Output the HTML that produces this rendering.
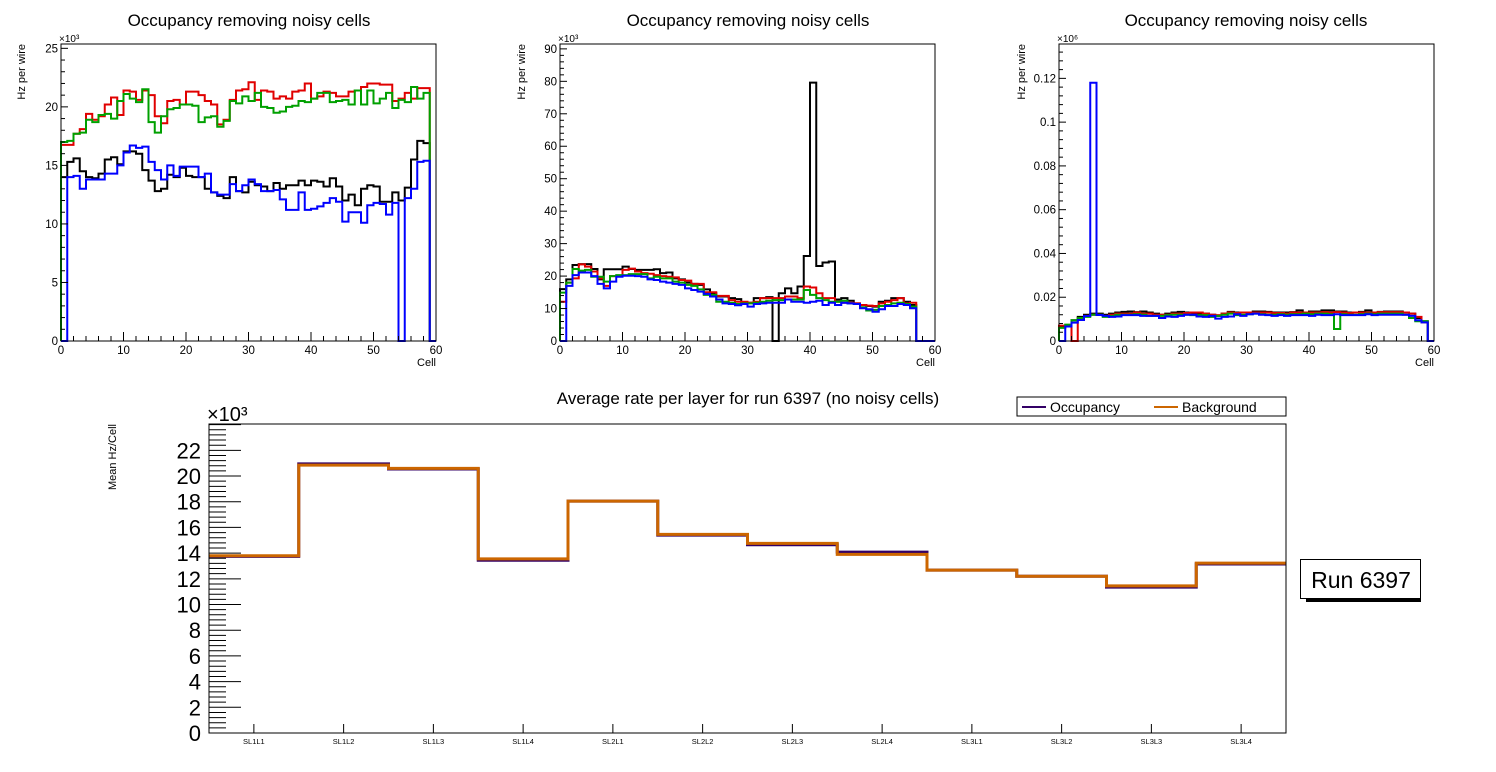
<!DOCTYPE html>
<html><head><meta charset="utf-8"><style>
html,body{margin:0;padding:0;background:#fff;}
svg{display:block;font-family:"Liberation Sans",Arial,sans-serif;}
</style></head><body>
<svg id="c" width="1496" height="772" viewBox="0 0 1496 772" xmlns="http://www.w3.org/2000/svg"></svg>
<script>
// ---------- DATA ----------
const cellBins = 60;
const p1Black = [14.0,15.3,15.6,14.5,14.0,13.9,14.3,15.5,15.7,15.1,16.2,16.2,16.0,14.6,13.7,12.8,13.0,14.2,14.0,14.8,14.1,14.0,14.0,13.0,12.7,12.4,12.2,14.0,12.8,12.7,13.6,13.3,13.2,12.8,13.5,13.0,13.3,13.3,13.7,13.3,13.7,13.6,13.2,13.9,13.2,12.0,12.5,11.6,13.0,13.3,13.2,11.9,11.9,12.7,12.0,13.1,15.5,17.1,16.9,0];
const p1Red = [16.75,16.75,17.7,18.1,19.4,18.9,19.2,20.2,20.8,19.3,21.4,21.3,20.6,21.4,21.0,19.2,18.6,20.5,20.6,20.2,21.3,21.3,21.0,20.5,20.2,18.5,18.9,20.6,21.4,21.5,22.1,20.6,21.4,21.3,20.7,20.9,20.7,21.3,21.4,22.0,20.7,20.9,21.3,21.2,20.9,20.9,21.3,21.4,21.7,22.0,22.0,21.9,21.9,20.5,20.7,21.2,20.7,21.6,21.6,0];
const p1Green = [17.0,17.1,17.7,17.8,18.9,18.7,19.3,19.4,19.0,20.5,21.1,20.7,20.4,21.5,18.7,17.8,19.2,19.8,19.9,20.2,20.2,20.1,18.7,19.1,19.2,18.3,18.8,20.5,20.3,20.9,20.5,21.2,20.0,19.9,19.5,19.6,20.0,20.1,20.5,20.4,20.7,21.2,21.2,20.4,20.5,20.6,20.2,21.4,20.2,21.4,20.3,20.7,21.2,19.9,20.6,20.4,21.7,20.7,21.2,0];
const p1Blue = [0,14.0,14.1,13.0,13.8,13.8,13.8,14.3,14.3,15.0,16.1,16.7,16.5,16.6,15.3,14.6,13.8,15.0,14.1,14.9,14.9,14.9,14.0,14.3,12.7,12.5,12.5,13.4,12.8,13.3,13.8,13.4,12.8,12.8,12.9,12.1,11.2,11.2,12.7,11.2,11.3,11.5,11.8,12.2,11.9,10.2,11.0,11.0,10.1,11.6,11.8,11.7,10.8,11.8,0,12.2,13.0,15.3,15.4,0];

const p2Black = [16.0,19.0,23.4,23.7,23.7,22.2,19.0,22.1,22.1,22.1,22.9,22.2,21.9,21.9,21.9,22.1,20.9,21.1,19.3,19.0,18.0,17.6,17.3,15.9,14.7,13.7,13.7,13.2,12.9,11.8,11.8,13.2,13.2,13.5,0,14.7,16.2,14.7,16.8,26.2,79.6,23.1,24.2,24.5,12.8,13.2,12.4,11.6,11.1,10.8,10.6,12.1,12.4,13.2,13.2,12.1,11.1,0,0,0];
const p2Red = [12.1,18.0,19.3,23.6,22.9,21.4,19.3,17.0,20.0,20.0,21.9,22.3,21.4,20.9,20.7,20.3,20.0,19.8,19.6,18.8,18.6,17.6,17.6,15.0,15.0,13.9,13.9,12.6,12.1,12.1,11.8,12.1,13.2,13.2,13.2,13.2,13.7,13.7,13.2,16.8,16.5,14.7,13.2,13.2,12.1,11.8,11.8,11.6,11.1,10.9,10.8,11.6,12.1,12.6,13.2,11.6,11.8,0,0,0];
const p2Green = [14.9,18.0,22.2,21.7,21.9,19.8,19.8,18.3,20.0,20.3,20.3,20.6,20.6,20.6,19.3,19.8,19.3,19.3,18.3,18.0,17.3,17.0,15.9,14.2,14.2,12.1,12.1,11.8,11.4,11.6,11.6,11.8,12.1,12.4,12.6,12.6,12.8,12.8,12.8,15.7,14.2,13.2,12.6,12.1,12.1,12.4,11.6,11.4,10.4,9.4,9.6,10.8,11.1,11.6,11.8,11.4,10.6,0,0,0];
const p2Blue = [0,17.0,20.3,21.1,21.1,20.0,17.6,16.2,18.3,19.8,20.1,20.1,20.0,19.8,19.0,18.8,18.3,18.0,17.6,17.3,16.2,15.7,15.2,14.5,13.7,12.8,11.6,11.4,11.0,11.4,10.6,11.4,11.6,11.8,11.8,11.8,12.8,12.1,12.1,11.8,12.1,12.4,11.1,11.8,11.1,11.8,11.6,11.4,10.1,9.8,9.0,9.8,10.8,10.8,11.4,11.1,10.1,0,0,0];

const p3Black = [0.0065,0.007,0.0095,0.011,0.012,0.0125,0.0125,0.012,0.0125,0.013,0.0133,0.0135,0.0132,0.0135,0.013,0.0125,0.012,0.0125,0.013,0.0133,0.013,0.0128,0.0125,0.0125,0.012,0.0115,0.0125,0.0133,0.013,0.013,0.013,0.0135,0.0135,0.0133,0.013,0.013,0.013,0.0132,0.014,0.013,0.0135,0.0135,0.014,0.014,0.0135,0.0135,0.013,0.013,0.0133,0.014,0.013,0.0133,0.0135,0.0135,0.0135,0.013,0.0125,0.0105,0.009,0];
const p3Red = [0.007,0.007,0,0.0105,0.0115,0.012,0.012,0.0115,0.012,0.0125,0.0125,0.0125,0.013,0.0125,0.0125,0.012,0.012,0.012,0.0125,0.0125,0.0128,0.013,0.013,0.0125,0.012,0.0118,0.0125,0.013,0.0128,0.013,0.013,0.013,0.013,0.013,0.0128,0.0128,0.0125,0.013,0.013,0.013,0.013,0.013,0.0132,0.013,0.0132,0.013,0.0128,0.013,0.013,0.013,0.013,0.0132,0.0132,0.0132,0.0132,0.013,0.0125,0.011,0.0085,0];
const p3Green = [0.006,0.0075,0.0095,0.0105,0.011,0.012,0.012,0.011,0.0115,0.012,0.012,0.012,0.0122,0.012,0.0115,0.0115,0.0115,0.0118,0.012,0.012,0.012,0.0118,0.0118,0.0118,0.011,0.0115,0.012,0.0125,0.0118,0.012,0.0122,0.0125,0.0122,0.012,0.012,0.0122,0.012,0.0122,0.0122,0.0125,0.0122,0.0125,0.0125,0.0122,0.0055,0.0122,0.012,0.012,0.0122,0.0125,0.0122,0.0125,0.0125,0.0125,0.0125,0.012,0.0105,0.009,0.009,0];
const p3Blue = [0,0.0066,0.0084,0.0096,0.0114,0.118,0.0119,0.0115,0.011,0.0112,0.0118,0.0118,0.0118,0.0115,0.0115,0.0115,0.0105,0.0112,0.011,0.0115,0.012,0.012,0.0112,0.011,0.0115,0.0102,0.011,0.0112,0.0122,0.0115,0.0122,0.0125,0.012,0.0118,0.0115,0.0118,0.0115,0.0118,0.0118,0.0118,0.0115,0.012,0.0118,0.0118,0.0122,0.0118,0.0118,0.0118,0.0118,0.0122,0.0118,0.012,0.012,0.012,0.012,0.012,0.0115,0.0095,0.0085,0];

const layerNames = ["SL1L1","SL1L2","SL1L3","SL1L4","SL2L1","SL2L2","SL2L3","SL2L4","SL3L1","SL3L2","SL3L3","SL3L4"];
const occupancyRate = [13.75,20.95,20.55,13.45,18.05,15.4,14.65,14.08,12.68,12.2,11.35,13.15];
const backgroundRate = [13.8,20.85,20.6,13.55,18.05,15.46,14.76,13.9,12.68,12.2,11.45,13.22];

const p1Ticks = ["0","5","10","15","20","25"];
const p2Ticks = ["0","10","20","30","40","50","60","70","80","90"];
const p3Ticks = ["0","0.02","0.04","0.06","0.08","0.1","0.12"];
const cellTicks = ["0","10","20","30","40","50","60"];
const rateTicks = ["0","2","4","6","8","10","12","14","16","18","20","22"];

// ---------- DRAWING ----------
const svg = document.getElementById('c');
const NS = 'http://www.w3.org/2000/svg';
function mk(tag, attrs, parent) {
  const e = document.createElementNS(NS, tag);
  for (const k in attrs) e.setAttribute(k, attrs[k]);
  (parent || svg).appendChild(e);
  return e;
}
function txt(s, attrs, parent) { const t = mk('text', attrs, parent); t.textContent = s; return t; }

function panel(cfg) {
  const g = mk('g', {});
  
  
  const L = cfg.x0, R = cfg.x1, T = cfg.y0, B = cfg.y1;
  const xs = v => L + (v / 60) * (R - L);
  const ys = v => B - (v / cfg.ymax) * (B - T);
  // title
  const tt = txt('Occupancy removing noisy cells', {x: cfg.tx, y: 26, 'font-size': 17, 'text-anchor': 'middle'}, g);
  
  
  // histograms
  const cols = ['#000000', '#e00000', '#00a000', '#0000ff'];
  const names = ['series-black', 'series-red', 'series-green', 'series-blue'];
  cfg.series.forEach((arr, si) => {
    let d = 'M' + xs(0) + ',' + ys(0);
    for (let i = 0; i < cellBins; i++) {
      d += ' L' + xs(i) + ',' + ys(arr[i]) + ' L' + xs(i + 1) + ',' + ys(arr[i]);
    }
    d += ' L' + xs(60) + ',' + ys(0);
    const p = mk('path', {d: d, fill: 'none', stroke: cols[si], 'stroke-width': 2, 'stroke-linejoin': 'miter'}, g);
    
    
  });
  // frame
  const fr = mk('rect', {x: L, y: T, width: R - L, height: B - T, fill: 'none', stroke: '#000', 'stroke-width': 1}, g);
  
  
  // y ticks
  const yAx = mk('g', {}, g);
  
  
  for (let v = 0; v <= cfg.ymax + 1e-9; v += cfg.yminor) {
    const isMaj = Math.abs(v / cfg.ymajor - Math.round(v / cfg.ymajor)) < 1e-6;
    mk('line', {x1: L, x2: L + (isMaj ? 7 : 4), y1: ys(v), y2: ys(v), stroke: '#000', 'stroke-width': 1}, yAx);
  }
  cfg.yticks.forEach((s, i) => {
    const v = i * cfg.ymajor;
    const t = txt(s, {x: L - 3, y: ys(v) + 4, 'font-size': 11.5, 'text-anchor': 'end'}, yAx);
    
    
  });
  const ex = txt(cfg.exp, {x: L - 2, y: T - 2, 'font-size': 10}, yAx);
  
  
  const yt = txt('Hz per wire', {x: 0, y: 0, 'font-size': 11, 'text-anchor': 'end', transform: 'translate(' + (cfg.yt) + ',' + (T) + ') rotate(-90)'}, yAx);
  
  
  // x ticks
  const xAx = mk('g', {}, g);
  
  
  for (let v = 0; v <= 60; v += 2) {
    const isMaj = v % 10 === 0;
    mk('line', {x1: xs(v), x2: xs(v), y1: B, y2: B - (isMaj ? 9 : 5), stroke: '#000', 'stroke-width': 1}, xAx);
  }
  cellTicks.forEach((s, i) => {
    const t = txt(s, {x: xs(i * 10), y: B + 13, 'font-size': 11.5, 'text-anchor': 'middle'}, xAx);
    
    
  });
  const xt = txt('Cell', {x: R, y: B + 25, 'font-size': 11, 'text-anchor': 'end'}, xAx);
  
  
}

panel({name: 'panel-layer-1', x0: 61, x1: 436, y0: 44, y1: 341, ymax: 25.37, ymajor: 5, yminor: 1, yticks: p1Ticks, exp: '×10³', tx: 249, yt: 25, series: [p1Black, p1Red, p1Green, p1Blue]});
panel({name: 'panel-layer-2', x0: 560, x1: 935, y0: 44, y1: 341, ymax: 91.5, ymajor: 10, yminor: 2, yticks: p2Ticks, exp: '×10³', tx: 748, yt: 525, series: [p2Black, p2Red, p2Green, p2Blue]});
panel({name: 'panel-layer-3', x0: 1059, x1: 1434, y0: 44, y1: 341, ymax: 0.1357, ymajor: 0.02, yminor: 0.004, yticks: p3Ticks, exp: '×10⁶', tx: 1246, yt: 1025, series: [p3Black, p3Red, p3Green, p3Blue]});

// ---------- BOTTOM CHART ----------
(function () {
  const g = mk('g', {});
  
  
  const L = 209, R = 1286, T = 424, B = 733, ymax = 24.05;
  const n = layerNames.length;
  const bw = (R - L) / n;
  const xs = i => L + i * bw;
  const ys = v => B - (v / ymax) * (B - T);
  const tt = txt('Average rate per layer for run 6397 (no noisy cells)', {x: 748, y: 404, 'font-size': 17, 'text-anchor': 'middle'}, g);
  
  
  function step(arr, col, name) {
    let d = 'M' + xs(0) + ',' + ys(arr[0]);
    for (let i = 0; i < n; i++) d += ' L' + xs(i) + ',' + ys(arr[i]) + ' L' + xs(i + 1) + ',' + ys(arr[i]);
    const p = mk('path', {d: d, fill: 'none', stroke: col, 'stroke-width': 3}, g);
    
    
  }
  step(occupancyRate, '#330066', 'occupancy-line');
  step(backgroundRate, '#cc6600', 'background-line');
  const fr = mk('rect', {x: L, y: T, width: R - L, height: B - T, fill: 'none', stroke: '#000', 'stroke-width': 1}, g);
  
  
  const yAx = mk('g', {}, g);
  
  
  for (let k = 0; k * 0.4 <= ymax; k++) {
    const v = k * 0.4;
    const isMaj = k % 5 === 0;
    mk('line', {x1: L, x2: L + (isMaj ? 32 : 17), y1: ys(v), y2: ys(v), stroke: '#000', 'stroke-width': 1}, yAx);
  }
  rateTicks.forEach((s, i) => {
    const t = txt(s, {x: L - 8, y: ys(i * 2) + 8, 'font-size': 22, 'text-anchor': 'end'}, yAx);
    
    
  });
  const ex = txt('×10³', {x: L - 2, y: T - 3, 'font-size': 20}, yAx);
  
  
  const yt = txt('Mean Hz/Cell', {x: 0, y: 0, 'font-size': 11, 'text-anchor': 'end', transform: 'translate(116,424) rotate(-90)'}, yAx);
  
  
  const xAx = mk('g', {}, g);
  
  
  layerNames.forEach((s, i) => {
    const cx = xs(i) + bw / 2;
    mk('line', {x1: cx, x2: cx, y1: B, y2: B - 9, stroke: '#000', 'stroke-width': 1}, xAx);
    const t = txt(s, {x: cx, y: B + 11, 'font-size': 7.5, 'text-anchor': 'middle'}, xAx);
    
    
  });
  // legend
  const lg = mk('g', {}, g);
  
  
  mk('rect', {x: 1017, y: 397, width: 269, height: 19, fill: '#fff', stroke: '#000', 'stroke-width': 1}, lg);
  const e1 = mk('g', {}, lg);
  
  
  mk('line', {x1: 1022, x2: 1046, y1: 407, y2: 407, stroke: '#330066', 'stroke-width': 2}, e1);
  txt('Occupancy', {x: 1050, y: 412, 'font-size': 14}, e1);
  const e2 = mk('g', {}, lg);
  
  
  mk('line', {x1: 1154, x2: 1178, y1: 407, y2: 407, stroke: '#cc6600', 'stroke-width': 2}, e2);
  txt('Background', {x: 1182, y: 412, 'font-size': 14}, e2);
  // run label
  const rb = mk('g', {});
  
  
  mk('rect', {x: 1306, y: 563, width: 115, height: 39, fill: '#000'}, rb);
  mk('rect', {x: 1300.5, y: 559.5, width: 120, height: 39, fill: '#fff', stroke: '#000', 'stroke-width': 1}, rb);
  txt('Run 6397', {x: 1361, y: 588, 'font-size': 23, 'text-anchor': 'middle'}, rb);
})();
</script>
</body></html>
